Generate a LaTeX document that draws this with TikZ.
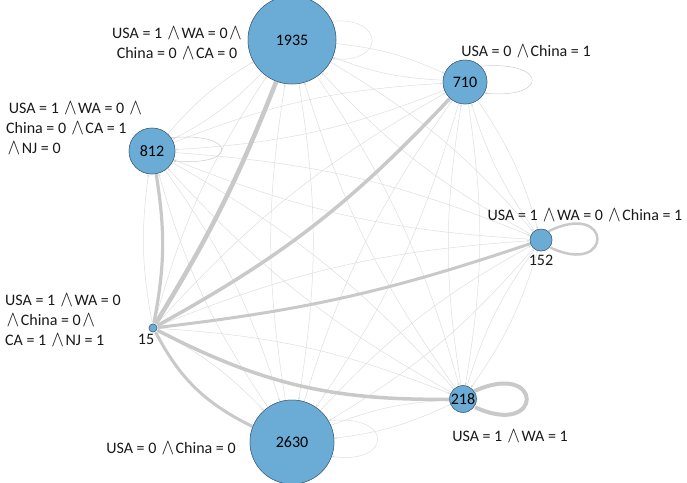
\documentclass[tikz,border=0pt]{standalone}
\usepackage{fontspec}
\setmainfont{Carlito}
\usetikzlibrary{arrows.meta}
\definecolor{nodefill}{RGB}{107,172,214}
\definecolor{nodeline}{RGB}{70,100,125}
\newcommand{\wdg}{\hspace{1.5pt}\raisebox{-0.3pt}{\scalebox{1.1}[1.3]{$\wedge$}}\hspace{1.5pt}}
\tikzset{
  vert/.style={circle,draw=nodeline,line width=0.5pt,fill=nodefill,inner sep=0pt,font=\fontsize{16}{18}\selectfont},
  lab/.style={font=\fontsize{16}{20}\selectfont,text=black!90,inner sep=0pt},
  thinedge/.style={draw=black!13,line width=0.5pt,-{Stealth[length=3pt,width=2.4pt]}},
  thickedge/.style={draw=black!21,-{Stealth[length=1.8,width=1.8]}},
}
\begin{document}
\begin{tikzpicture}[x=1pt,y=1pt]
\useasboundingbox (0,0) rectangle (687,-482);
% nodes
\node[vert,minimum size=88pt] (A) at (292,-40) {1935};
\node[vert,minimum size=44pt] (B) at (465,-82) {710};
\node[vert,minimum size=46pt] (C) at (152,-151) {812};
\node[vert,minimum size=22pt] (D) at (541,-240) {};
\node[vert,minimum size=8pt] (E) at (153,-328) {};
\node[vert,minimum size=24pt] (F) at (463,-399) {218};
\node[vert,minimum size=84pt] (G) at (292,-442) {2630};
% thin edges
\foreach \u/\v in {A/B,B/A,A/C,C/A,A/D,D/A,A/F,F/A,A/G,G/A,
                   B/C,C/B,B/D,D/B,B/F,F/B,B/G,G/B,
                   C/D,D/C,C/F,F/C,C/G,G/C,
                   D/F,F/D,D/G,G/D,F/G,G/F,
                   E/A,E/B,E/C,E/D,E/F,E/G}
  \draw[thinedge] (\u) to[bend left=9] (\v);
% thick edges into 15
\draw[thickedge,line width=4.5pt] (A) to[bend left=5] (E);
\draw[thickedge,line width=3.5pt] (B) to[bend left=9] (E);
\draw[thickedge,line width=3.2pt] (C) to[bend left=10] (E);
\draw[thickedge,line width=3pt] (D) to[bend left=6] (E);
\draw[thickedge,line width=3.5pt] (F) to[bend left=14] (E);
\draw[thickedge,line width=3pt] (G) to[bend left=18] (E);
% self loops
\draw[thinedge,draw=black!12] (A.25) .. controls +(53,5) and +(53,-5) .. (A.-25);
\draw[thinedge,draw=black!20] (B.45) .. controls +(67,6) and +(65,-6) .. (B.-30);
\draw[thinedge,draw=black!20] (C.35) .. controls +(66,6) and +(66,-6) .. (C.-25);
\draw[thickedge,line width=2.5pt] (D.50) .. controls +(65,32) and +(64,-30) .. (D.-40);
\draw[thickedge,line width=4pt] (F.35) .. controls +(70,32) and +(70,-32) .. (F.-35);
\draw[thinedge,draw=black!12] (G.30) .. controls +(64,8) and +(62,-8) .. (G.-20);
% redraw nodes on top
\node[vert,minimum size=88pt] at (A) {1935};
\node[vert,minimum size=44pt] at (B) {710};
\node[vert,minimum size=46pt] at (C) {812};
\node[vert,minimum size=22pt] at (D) {};
\node[vert,minimum size=8pt] at (E) {};
\node[vert,minimum size=24pt] at (F) {218};
\node[vert,minimum size=84pt] at (G) {2630};
% labels
\node[lab,align=center] (LA) at (177,-43) {USA = 1 \wdg WA = 0\wdg\\China = 0 \wdg CA = 0};
\node[lab,align=center] (LB) at (526,-51) {USA = 0 \wdg China = 1};
\node[lab,align=left,anchor=west] (LC) at (6,-128) {\,USA = 1 \wdg WA = 0 \wdg\\China = 0 \wdg CA = 1\\\wdg NJ = 0};
\node[lab] (LD) at (585,-215) {USA = 1 \wdg WA = 0 \wdg China = 1};
\node[lab] (ND) at (541,-260) {152};
\node[lab,align=left,anchor=west] (LE) at (5,-320) {USA = 1 \wdg WA = 0\\\wdg China = 0\wdg\\CA = 1 \wdg NJ = 1};
\node[lab] (NE) at (146,-339) {15};
\node[lab] (LF) at (510,-436) {USA = 1 \wdg WA = 1};
\node[lab] (LG) at (171,-448) {USA = 0 \wdg China = 0};
\end{tikzpicture}
\end{document}
